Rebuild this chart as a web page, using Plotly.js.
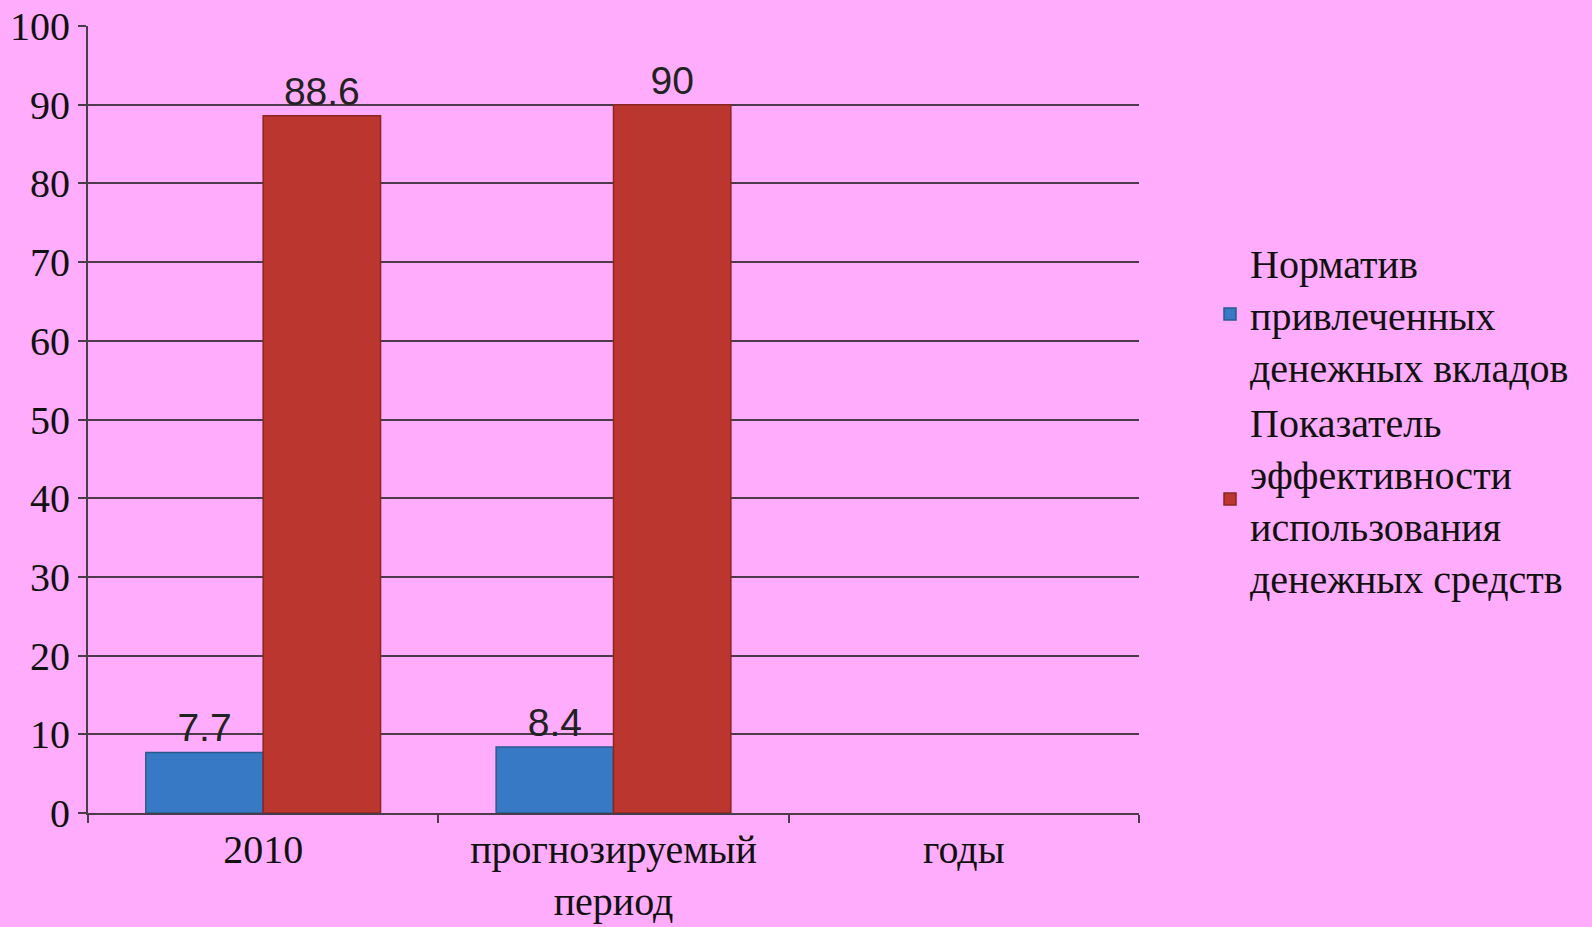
<!DOCTYPE html>
<html>
<head>
<meta charset="utf-8">
<script src="https://cdn.plot.ly/plotly-3.0.1.min.js"></script>
<style>html,body{margin:0;padding:0;background:#ffacfd;}#chart{width:1592px;height:927px;}</style>
</head>
<body>
<div id="chart"></div>
<script>
const categories = ["2010", "прогнозируемый<br>период", "годы"];
const seriesNames = ["Норматив<br>привлеченных<br>денежных вкладов", "Показатель<br>эффективности<br>использования<br>денежных средств"];
const normativ = [7.7, 8.4, null];
const pokazatel = [88.6, 90, null];
const yTicks = [0, 10, 20, 30, 40, 50, 60, 70, 80, 90, 100];

const serif = "Liberation Serif, Times New Roman, serif";
const sans = "Liberation Sans, Arial, sans-serif";
const lbl = v => (v === null ? "" : String(v));

const traces = [
  {
    type: "bar", name: seriesNames[0], x: categories, y: normativ,
    text: normativ.map(lbl), textposition: "outside", cliponaxis: false,
    textfont: {family: sans, size: 39, color: "#222"},
    marker: {color: "#3779c4", line: {color: "#2b5a8f", width: 1.5}},
    hoverinfo: "none"
  },
  {
    type: "bar", name: seriesNames[1], x: categories, y: pokazatel,
    text: pokazatel.map(lbl), textposition: "outside", cliponaxis: false,
    textfont: {family: sans, size: 39, color: "#222"},
    marker: {color: "#bc3630", line: {color: "#8a2622", width: 1.5}},
    hoverinfo: "none"
  }
];

const layout = {
  width: 1592, height: 927,
  paper_bgcolor: "#ffacfd", plot_bgcolor: "#ffacfd",
  margin: {l: 88, r: 453, t: 26, b: 114, pad: 0},
  barmode: "group", bargap: 0.33, bargroupgap: 0,
  showlegend: true,
  legend: {
    xref: "container", x: 1210 / 1592, xanchor: "left",
    y: 0.5, yanchor: "middle",
    font: {family: serif, size: 40, color: "#111"},
    bgcolor: "rgba(0,0,0,0)", itemwidth: 30, traceorder: "normal",
    itemclick: false, itemdoubleclick: false
  },
  xaxis: {
    type: "category", tickson: "boundaries", ticks: "outside", ticklen: 8, tickwidth: 2, tickcolor: "#4a3a4a",
    showline: true, linecolor: "#4a3a4a", linewidth: 2,
    showgrid: false, zeroline: false,
    tickfont: {family: serif, size: 40, color: "#111"}
  },
  yaxis: {
    range: [0, 100], tickvals: yTicks, ticktext: yTicks.map(String),
    ticks: "outside", ticklen: 8, tickwidth: 2, tickcolor: "#4a3a4a",
    showline: true, linecolor: "#4a3a4a", linewidth: 2,
    showgrid: true, gridcolor: "#4a3a4a", gridwidth: 2, zeroline: false,
    tickfont: {family: serif, size: 40, color: "#111"}
  },
  font: {family: serif, color: "#111"}
};

Plotly.newPlot("chart", traces, layout, {displayModeBar: false, staticPlot: true});
</script>
</body>
</html>
